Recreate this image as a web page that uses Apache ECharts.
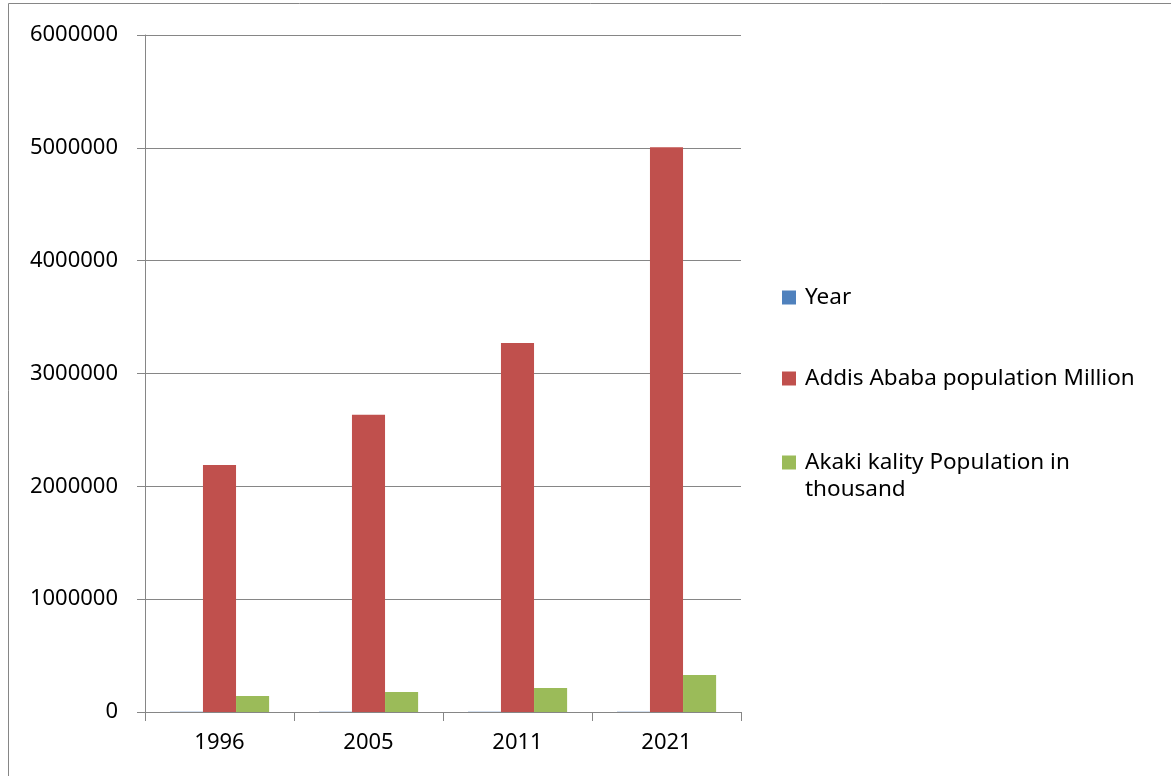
<!DOCTYPE html>
<html>
<head>
<meta charset="utf-8">
<script src="https://cdn.jsdelivr.net/npm/echarts@6/dist/echarts.min.js"></script>
<style>
html,body{margin:0;padding:0;background:#fff;}
#c{width:1171px;height:776px;}
</style>
</head>
<body>
<div id="c"></div>
<script>
var categories = ['1996', '2005', '2011', '2021'];
var yearValues = [1996, 2005, 2011, 2021];
var addisValues = [2190000, 2635000, 3270000, 5005000];
var akakiValues = [142000, 177000, 213000, 328000];
var yTicks = { min: 0, max: 6000000, interval: 1000000 };
var seriesNames = ['Year', 'Addis Ababa population Million', 'Akaki kality Population in thousand'];

var FONT = 'Noto Sans';
var GRAY = '#868686';
var colors = ['#4F81BD', '#C0504D', '#9BBB59'];

var chart = echarts.init(document.getElementById('c'), null, { renderer: 'canvas' });

function legendAt(name, top, fmt) {
  return {
    data: [name],
    left: 777,
    top: top,
    orient: 'vertical',
    icon: 'rect',
    itemWidth: 14,
    itemHeight: 14,
    selectedMode: false,
    formatter: fmt || '{name}',
    textStyle: { fontFamily: FONT, fontSize: 22.5, color: '#000', padding: [0, 0, 0, 4] }
  };
}

var option = {
  animation: false,
  backgroundColor: '#fff',
  color: colors,
  textStyle: { fontFamily: FONT },
  grid: { left: 145, right: 430, top: 35, bottom: 64, containLabel: false },
  legend: [
    legendAt(seriesNames[0], 281),
    legendAt(seriesNames[1], 362),
    legendAt(seriesNames[2], 446, 'Akaki kality Population in')
  ],
  graphic: [
    {
      type: 'rect',
      silent: true,
      shape: { x: 8.5, y: 3.5, width: 1300, height: 900 },
      style: { fill: 'none', stroke: GRAY, lineWidth: 1 }
    },
    {
      type: 'text',
      left: 805,
      top: 478,
      silent: true,
      style: { text: 'thousand', fontFamily: FONT, fontSize: 22.5, fill: '#000' }
    }
  ],
  xAxis: {
    type: 'category',
    data: categories,
    axisLine: { lineStyle: { color: GRAY, width: 1 } },
    axisTick: { show: true, length: 9, lineStyle: { color: GRAY } },
    axisLabel: { color: '#000', fontFamily: FONT, fontSize: 22, margin: 20 },
    splitLine: { show: false }
  },
  yAxis: {
    type: 'value',
    min: yTicks.min,
    max: yTicks.max,
    interval: yTicks.interval,
    axisLine: { show: true, lineStyle: { color: GRAY, width: 1 } },
    axisTick: { show: true, length: 8, lineStyle: { color: GRAY } },
    axisLabel: {
      color: '#000', fontFamily: FONT, fontSize: 22, margin: 27,
      formatter: function (v) { return String(v); }
    },
    splitLine: { show: true, lineStyle: { color: GRAY, width: 1 } }
  },
  series: [
    { name: seriesNames[0], type: 'bar', data: yearValues, barGap: '0%', barCategoryGap: '33.4%' },
    { name: seriesNames[1], type: 'bar', data: addisValues, barGap: '0%', barCategoryGap: '33.4%' },
    { name: seriesNames[2], type: 'bar', data: akakiValues, barGap: '0%', barCategoryGap: '33.4%' }
  ]
};
chart.setOption(option);
</script>
</body>
</html>
